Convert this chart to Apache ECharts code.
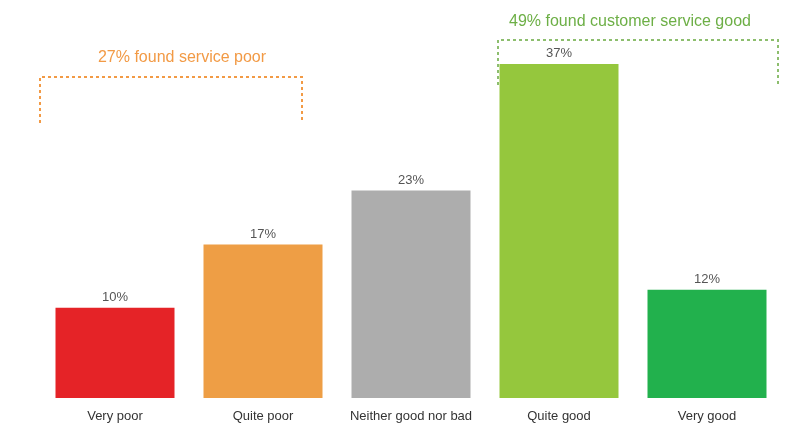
<!DOCTYPE html>
<html><head><meta charset="utf-8">
<script src="https://cdn.jsdelivr.net/npm/echarts@6/dist/echarts.min.js"></script>
<style>html,body{margin:0;padding:0;background:#fff}#c{width:795px;height:423px}</style>
</head><body><div id="c"></div>
<script>
const categories = ['Very poor', 'Quite poor', 'Neither good nor bad', 'Quite good', 'Very good'];
const values = [10, 17, 23, 37, 12];
const barColors = ['#E52327', '#EE9E45', '#ADADAD', '#95C73D', '#22B14D'];
const poorNote = '27% found service poor';
const goodNote = '49% found customer service good';

const FONT = '"Liberation Sans", Arial, sans-serif';
const chart = echarts.init(document.getElementById('c'));
chart.setOption({
  animation: false,
  backgroundColor: '#fff',
  grid: { left: 41, right: 14, top: 37, bottom: 24 },
  xAxis: {
    type: 'category', data: categories,
    axisLine: { show: false }, axisTick: { show: false },
    axisLabel: { interval: 0, color: '#333', fontSize: 13, fontFamily: FONT, margin: 12 }
  },
  yAxis: { type: 'value', min: 0, max: 40, show: false, splitLine: { show: false } },
  series: [{
    type: 'bar', barWidth: 119,
    data: values.map((v, i) => ({ value: v, itemStyle: { color: barColors[i] } })),
    label: { show: true, position: 'top', distance: 4, formatter: '{c}%', color: '#555', fontSize: 13, fontFamily: FONT }
  }],
  graphic: [
    { type: 'text', x: 182, y: 58, style: { text: poorNote, fill: '#F29A45', font: '16px ' + FONT, align: 'center', verticalAlign: 'middle' } },
    { type: 'polyline', shape: { points: [[40, 123], [40, 77], [302, 77], [302, 123]] },
      style: { stroke: '#F29A45', lineWidth: 2, lineDash: [3, 3], fill: null } },
    { type: 'text', x: 630, y: 22, style: { text: goodNote, fill: '#6DAF46', font: '16px ' + FONT, align: 'center', verticalAlign: 'middle' } },
    { type: 'polyline', shape: { points: [[498, 85], [498, 40], [778, 40], [778, 85]] },
      style: { stroke: '#8DBE6E', lineWidth: 2, lineDash: [3, 3], fill: null } }
  ]
});
</script></body></html>
